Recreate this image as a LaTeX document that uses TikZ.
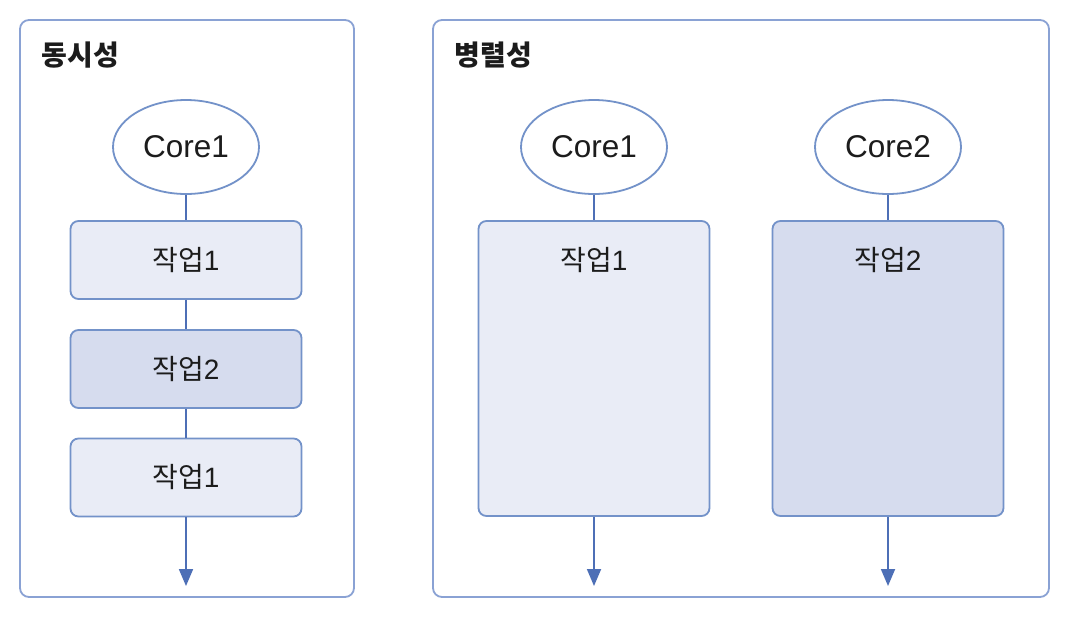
\documentclass[tikz,border=0pt]{standalone}
\usepackage{fontspec}
\setmainfont{Liberation Sans}
\newfontfamily\kr{Noto Sans CJK KR}
\usetikzlibrary{shapes.geometric,arrows.meta}
\definecolor{panelline}{HTML}{8AA2D4}
\definecolor{boxline}{HTML}{7392C9}
\definecolor{lightfill}{HTML}{E9ECF6}
\definecolor{darkfill}{HTML}{D6DCEE}
\definecolor{flow}{HTML}{4D6FB6}
\definecolor{ink}{HTML}{1C1C1C}
\newcommand{\job}[1]{{\kr 작업}#1}
\begin{document}
\begin{tikzpicture}[x=1pt,y=-1pt,
  panel/.style={draw=panelline,line width=1.8pt,rounded corners=9pt,fill=white},
  paneltitle/.style={anchor=west,text=ink,font=\kr\bfseries\fontsize{28}{31}\selectfont},
  core/.style={ellipse,draw=boxline,line width=1.8pt,fill=white,minimum width=146pt,minimum height=94pt,inner sep=0pt,text=ink,font=\fontsize{31.5}{34}\selectfont},
  task/.style={draw=boxline,line width=1.8pt,rounded corners=8pt,minimum width=231pt,inner sep=0pt,text=ink,font=\fontsize{28}{31}\selectfont},
  tasklabel/.style={text=ink,font=\fontsize{28}{31}\selectfont,inner sep=0pt},
  link/.style={draw=flow,line width=1.8pt},
  flowarrow/.style={draw=flow,line width=1.8pt,-{Triangle[width=14pt,length=17pt]}}
]
\useasboundingbox[fill=white] (0,0) rectangle (1088,622);

% panels
\draw[panel] (20,20) rectangle (354,597);
\draw[panel] (433,20) rectangle (1049,597);
\node[paneltitle] (tconc) at (38,55) {동시성};
\node[paneltitle] (tpar) at (451,55) {병렬성};

% concurrency: one core, tasks in turn
\node[core] (c1) at (186,147) {Core1};
\node[task,fill=lightfill,minimum height=78pt] (a1) at (186,260) {\job{1}};
\node[task,fill=darkfill,minimum height=78pt] (a2) at (186,369) {\job{2}};
\node[task,fill=lightfill,minimum height=78pt] (a3) at (186,477.5) {\job{1}};
\coordinate (aend) at (186,586);
\draw[link] (c1.south) -- (a1.north);
\draw[link] (a1.south) -- (a2.north);
\draw[link] (a2.south) -- (a3.north);
\draw[flowarrow] (a3.south) -- (aend);

% parallelism: two cores, one task each
\node[core] (p1) at (594,147) {Core1};
\node[core] (p2) at (888,147) {Core2};
\node[task,fill=lightfill,minimum height=295pt] (b1) at (594,368.5) {};
\node[task,fill=darkfill,minimum height=295pt] (b2) at (888,368.5) {};
\node[tasklabel] (l1) at (594,260) {\job{1}};
\node[tasklabel] (l2) at (888,260) {\job{2}};
\coordinate (b1end) at (594,586);
\coordinate (b2end) at (888,586);
\draw[link] (p1.south) -- (b1.north);
\draw[link] (p2.south) -- (b2.north);
\draw[flowarrow] (b1.south) -- (b1end);
\draw[flowarrow] (b2.south) -- (b2end);
\end{tikzpicture}
\end{document}
